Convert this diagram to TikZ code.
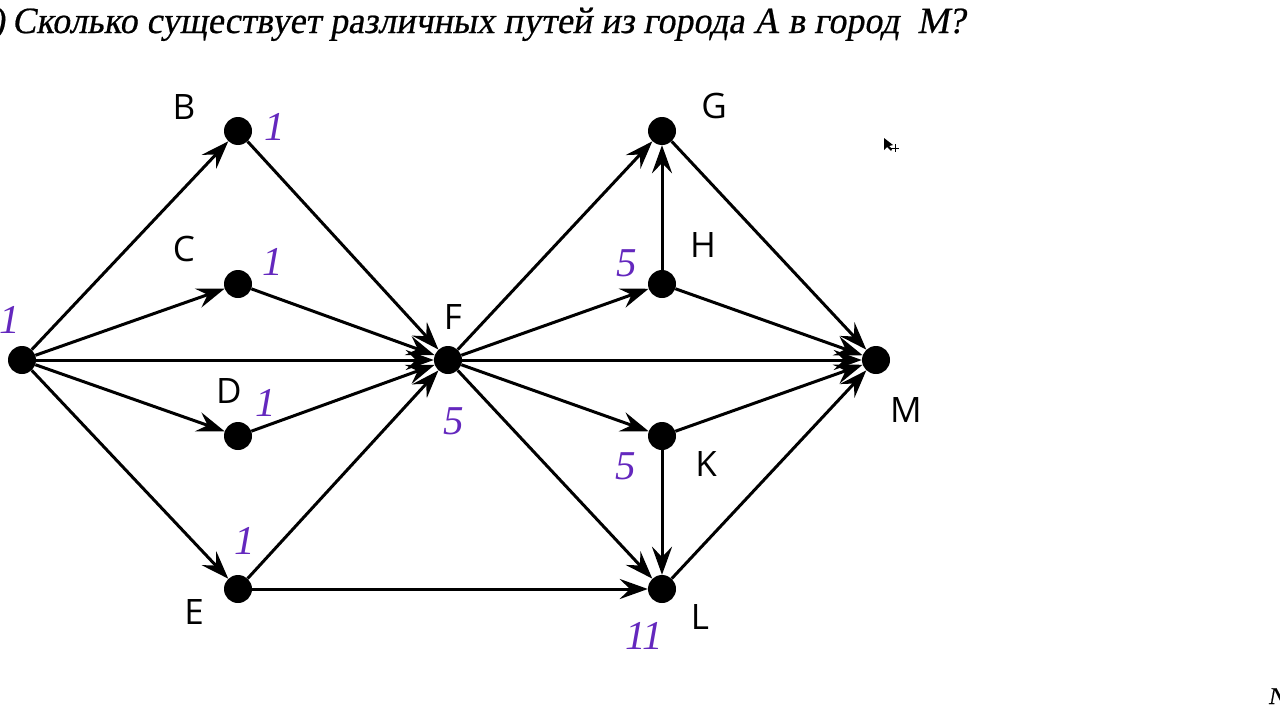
\documentclass[tikz,border=0pt]{standalone}
\usepackage{fontspec}
\setmainfont{Liberation Serif}
\newfontfamily\titlefont[FakeSlant=0.18,FakeBold=0.6]{Liberation Serif}
\newfontfamily\labfont{Open Sans}
\newfontfamily\numfont{Liberation Serif}
\usetikzlibrary{arrows.meta}
\definecolor{numcol}{RGB}{100,40,190}
\tikzset{
  city/.style={circle,fill=black,inner sep=0pt,minimum size=28pt},
  lab/.style={font=\labfont\fontsize{35}{35}\selectfont,inner sep=0pt},
  num/.style={font=\numfont\itshape\fontsize{41}{41}\selectfont,text=numcol,inner sep=0pt},
  road/.style={line width=3pt,-{Stealth[length=28pt,width=20pt,inset=10pt]}}
}
\begin{document}
\begin{tikzpicture}[x=1pt,y=-1pt]
\useasboundingbox (0,0) rectangle (1280,720);
\fill[white] (0,0) rectangle (1280,720);
% title
\node[anchor=base west,inner sep=0pt] (title) at (12,33)
  {\resizebox{953pt}{\height}{\titlefont\fontsize{37}{37}\selectfont Сколько существует различных путей из города А в город\ \ М?}};
\node[anchor=base east,inner sep=0pt] (cut) at (5,33) {\titlefont\fontsize{37}{37}\selectfont )};
\node[anchor=base west,inner sep=0pt] (corner) at (1268,704) {\titlefont\fontsize{24}{24}\selectfont N};
% cursor
\fill[black] (884,138) -- (884,150) -- (887,147) -- (891,151) -- (892,149) -- (889,146) -- (893,145) -- cycle;
\draw[black,line width=0.8pt] (891,148) -- (899,148) (895,144) -- (895,152);
% cities
\node[city] (A) at (22,360) {};
\node[city] (B) at (238,131) {};
\node[city] (C) at (238,284) {};
\node[city] (D) at (238,436) {};
\node[city] (E) at (238,589) {};
\node[city] (F) at (448,360) {};
\node[city] (G) at (662,131) {};
\node[city] (H) at (662,284) {};
\node[city] (K) at (662,436) {};
\node[city] (L) at (662,589) {};
\node[city] (M) at (876,360) {};
% letters
\node[lab] (lB) at (184,107) {B};
\node[lab] (lC) at (184,249) {C};
\node[lab] (lD) at (229,391) {D};
\node[lab] (lE) at (194,612) {E};
\node[lab] (lF) at (453,317) {F};
\node[lab] (lG) at (714,106) {G};
\node[lab] (lH) at (703,245) {H};
\node[lab] (lK) at (706,464) {K};
\node[lab] (lL) at (700,617) {L};
\node[lab] (lM) at (906,410) {M};
% numbers
\node[num] (nA) at (10,320) {1};
\node[num] (nB) at (275,127) {1};
\node[num] (nC) at (273,262) {1};
\node[num] (nD) at (266,403) {1};
\node[num] (nE) at (245,541) {1};
\node[num] (nF) at (454,421) {5};
\node[num] (nH) at (627,263) {5};
\node[num] (nK) at (626,466) {5};
\node[num] (nL) at (644,636) {11};
% roads
\draw[road] (A) -- (B);
\draw[road] (A) -- (C);
\draw[road] (A) -- (F);
\draw[road] (A) -- (D);
\draw[road] (A) -- (E);
\draw[road] (B) -- (F);
\draw[road] (C) -- (F);
\draw[road] (D) -- (F);
\draw[road] (E) -- (F);
\draw[road] (E) -- (L);
\draw[road] (F) -- (G);
\draw[road] (F) -- (H);
\draw[road] (F) -- (M);
\draw[road] (F) -- (K);
\draw[road] (F) -- (L);
\draw[road] (H) -- (G);
\draw[road] (H) -- (M);
\draw[road] (G) -- (M);
\draw[road] (K) -- (M);
\draw[road] (K) -- (L);
\draw[road] (L) -- (M);
\end{tikzpicture}
\end{document}
